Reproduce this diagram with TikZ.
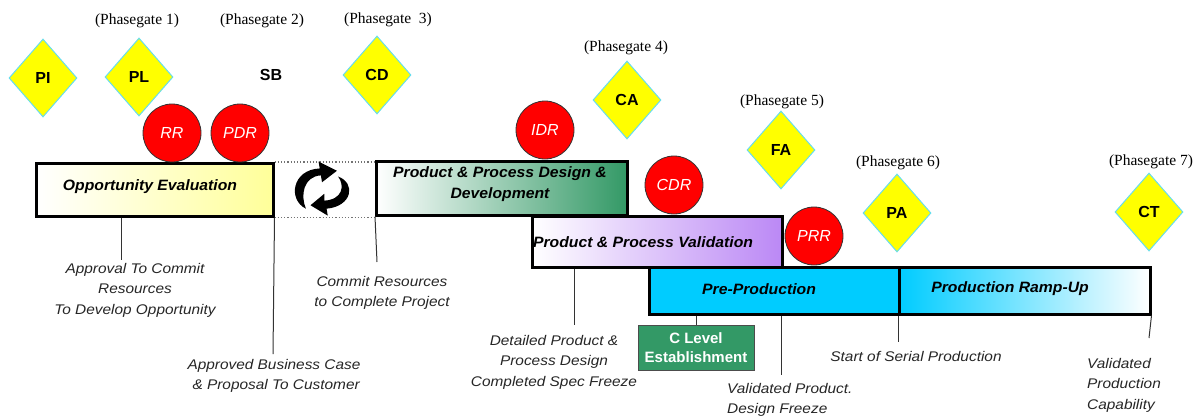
\documentclass[tikz,border=0pt]{standalone}
\usepackage{fontspec}
\setmainfont{Liberation Serif}
\setsansfont{Liberation Sans}
\newfontfamily\notefont{Liberation Sans}[FakeStretch=1.1]
\newfontfamily\phasefont{Liberation Sans}[FakeStretch=1.05]
\usetikzlibrary{shapes.geometric,arrows.meta}

\definecolor{gateyellow}{HTML}{FFFF00}
\definecolor{gateedge}{HTML}{66DDEE}
\definecolor{reviewred}{HTML}{FF0000}
\definecolor{paleyellow}{HTML}{FFFF99}
\definecolor{seagreen}{HTML}{339966}
\definecolor{lavender}{HTML}{BB88F5}
\definecolor{skycyan}{HTML}{00CCFF}
\definecolor{tickgray}{HTML}{333333}

\tikzset{
  gate/.style={diamond, draw=gateedge, line width=1pt, fill=gateyellow,
    minimum width=68pt, minimum height=78pt, inner sep=0pt,
    font=\fontsize{16}{18}\selectfont\sffamily\bfseries},
  review/.style={circle, draw=black!80, line width=0.8pt, fill=reviewred,
    minimum size=58pt, inner sep=0pt, text=white,
    font=\fontsize{16}{18}\selectfont\sffamily\itshape},
  phase/.style={rectangle, draw=black, line width=2.5pt, anchor=north west,
    inner sep=0pt},
  phasetext/.style={align=center,
    font=\fontsize{15}{21}\selectfont\phasefont\bfseries\itshape},
  gatelabel/.style={font=\fontsize{15.5}{18}\selectfont\rmfamily, inner sep=0pt},
  note/.style={font=\fontsize{14}{20.5}\selectfont\notefont\itshape,
    text=black!85, align=center, inner sep=0pt},
  tick/.style={draw=tickgray, line width=1pt},
  spacer/.style={draw=black!55, dotted, line width=1.2pt},
  cycle arrow/.style={fill=black}
}

\begin{document}
\begin{tikzpicture}[x=1pt,y=-1pt]
\useasboundingbox (0,0) rectangle (1200,416);

% ---- phase bars ----
\node[phase, minimum width=237pt, minimum height=53pt,
      left color=white, right color=paleyellow] (oe) at (35,162) {};
\node[phasetext] (oetext) at (150,187) {Opportunity Evaluation};

\node[phase, minimum width=251pt, minimum height=54pt,
      left color=white, right color=seagreen] (ppd) at (375,160) {};
\node[phasetext] (ppdtext) at (500,184) {Product \& Process Design \&\\Development};

\node[phase, minimum width=250pt, minimum height=51pt,
      left color=white, right color=lavender] (ppv) at (531,215) {};
\node[phasetext] (ppvtext) at (643,242) {Product \& Process Validation};

\node[phase, minimum width=250pt, minimum height=47pt, fill=skycyan] (pp) at (648,266) {};
\node[phasetext] (pptext) at (759,289) {Pre-Production};

\node[phase, minimum width=251pt, minimum height=47pt,
      left color=skycyan, right color=white] (pru) at (898,266) {};
\node[phasetext] (prutext) at (1010,289) {Production Ramp-Up};

% ---- dotted gap between the first two phases ----
\draw[spacer] (oe.north east) -- (ppd.west |- oe.north east);
\draw[spacer] (oe.south east) -- (ppd.west |- oe.south east);

% ---- cycle symbol: two curved block arrows ----
\coordinate (cyc) at (322,188);
\begin{scope}[shift={(cyc)}, scale=1.15]
  % left arc, sweeping up over the top, head pointing right
  \fill[cycle arrow] (-14,18) .. controls (-30,10) and (-26,-16) .. (-2,-17)
    -- (-3,-23) -- (13,-15) -- (0,-5) -- (-1,-11)
    .. controls (-16,-10) and (-19,6) .. (-14,18) -- cycle;
  % right arc, sweeping down under the bottom, head pointing left
  \fill[cycle arrow] (14,-10) .. controls (30,-4) and (26,16) .. (4,18)
    -- (5,24) -- (-10,15) -- (2,5) -- (2,11)
    .. controls (18,10) and (20,-2) .. (14,-10) -- cycle;
\end{scope}

% ---- C level box ----
\node[rectangle, draw=black!70, line width=1pt, fill=seagreen, text=white,
      minimum width=116pt, minimum height=45pt, inner sep=0pt, align=center,
      font=\fontsize{15}{19}\selectfont\sffamily\bfseries] (clevel) at (696,348)
  {C Level\\Establishment};

% ---- phase gates ----
\node[gate] (pi) at (43,78) {PI};
\node[gate] (pl) at (139,77) {PL};
\node[font=\fontsize{16}{18}\selectfont\sffamily\bfseries] (sb) at (271,75) {SB};
\node[gate] (cd) at (377,75) {CD};
\node[gate] (ca) at (627,100) {CA};
\node[gate] (fa) at (781,150) {FA};
\node[gate] (pa) at (897,213) {PA};
\node[gate] (ct) at (1149,212) {CT};

\node[gatelabel] (g1) at (137,21) {(Phasegate 1)};
\node[gatelabel] (g2) at (262,21) {(Phasegate 2)};
\node[gatelabel] (g3) at (388,20) {(Phasegate\ \ 3)};
\node[gatelabel] (g4) at (626,48) {(Phasegate 4)};
\node[gatelabel] (g5) at (782,102) {(Phasegate 5)};
\node[gatelabel] (g6) at (898,163) {(Phasegate 6)};
\node[gatelabel] (g7) at (1151,162) {(Phasegate 7)};

% ---- design reviews ----
\node[review] (rr) at (172,133) {RR};
\node[review] (pdr) at (240,133) {PDR};
\node[review] (idr) at (545,130) {IDR};
\node[review] (cdr) at (674,185) {CDR};
\node[review] (prr) at (814,236) {PRR};

% ---- milestone ticks ----
\coordinate (t1) at (121,260);
\coordinate (t2) at (273,354);
\coordinate (t3) at (377,262);
\coordinate (t4) at (574,325);
\coordinate (t6) at (781,375);
\coordinate (t7) at (898,342);
\coordinate (t8) at (1149,338);

\draw[tick] (oe.south -| t1) -- (t1);
\draw[tick] (oe.south east) -- (t2);
\draw[tick] (ppd.south west) -- (t3);
\draw[tick] (ppv.south -| t4) -- (t4);
\draw[tick] (pp.south -| clevel.north) -- (clevel.north);
\draw[tick] (pp.south -| t6) -- (t6);
\draw[tick] (pru.south west) -- (t7);
\draw[tick] (pru.south east) -- (t8);

% ---- milestone notes ----
\node[note, anchor=north] (n1) at (135,263) {Approval To Commit\\Resources\\To Develop Opportunity};
\node[note, anchor=north] (n2) at (274,359) {Approved Business Case\\\ \& Proposal To Customer};
\node[note, anchor=north] (n3) at (382,276) {Commit Resources\\to Complete Project};
\node[note, anchor=north] (n4) at (554,335) {Detailed Product \&\\Process Design\\Completed Spec Freeze};
\node[note, anchor=north west, align=left] (n6) at (727,383) {Validated Product.\\Design Freeze};
\node[note, anchor=north] (n7) at (916,351) {Start of Serial Production};
\node[note, anchor=north west, align=left] (n8) at (1087,358) {Validated\\Production\\Capability};

\end{tikzpicture}
\end{document}
